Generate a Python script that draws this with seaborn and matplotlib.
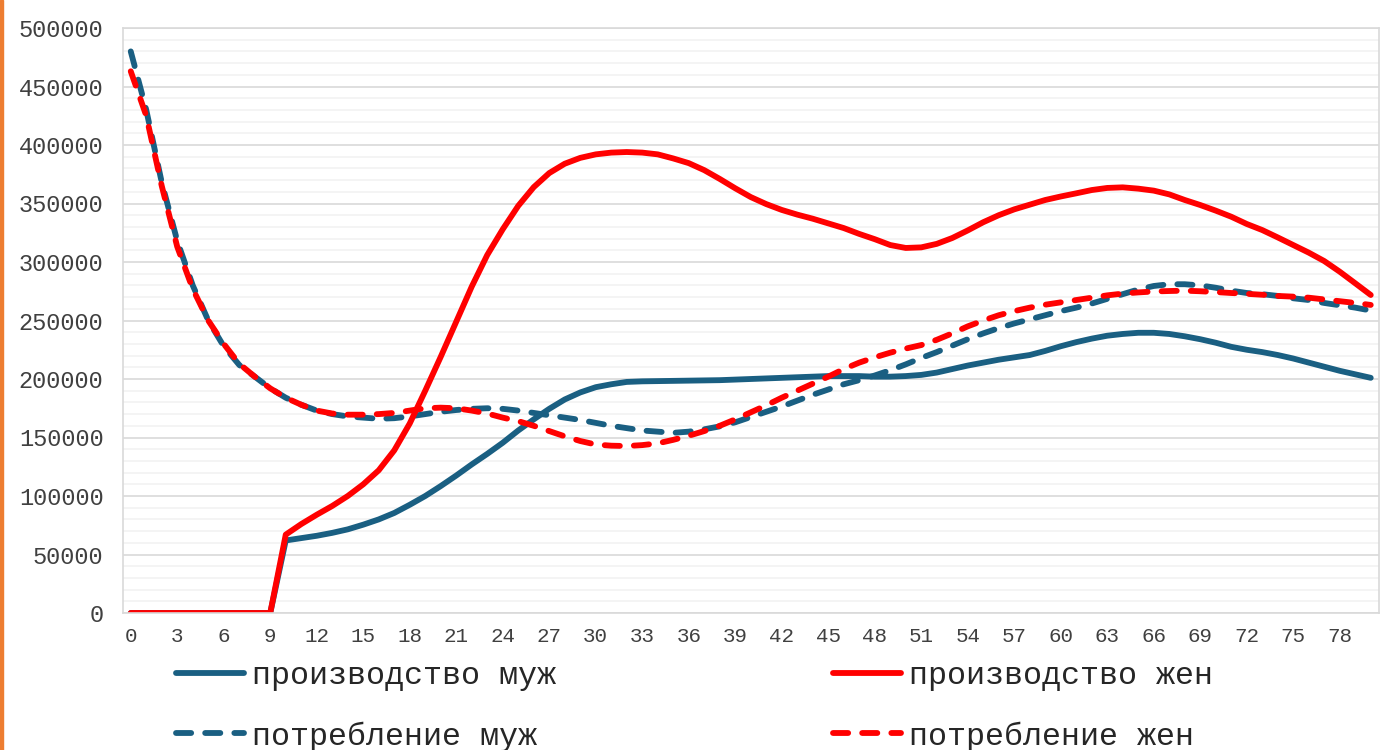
import numpy as np
import pandas as pd
import matplotlib
matplotlib.use("Agg")
import matplotlib.pyplot as plt
from matplotlib.ticker import MultipleLocator
from matplotlib.patches import Rectangle
import seaborn as sns

ages = list(range(0, 81))

prod_male = [0, 0, 0, 0, 0, 0, 0, 0, 0, 0,
             62000, 64000, 66000, 68500, 71500, 75500, 80000, 85500, 92500, 100000,
             108500, 117500, 127000, 136000, 145500, 156000, 165500, 174500, 182500, 188500,
             193000, 195500, 197500, 198000, 198200, 198400, 198600, 198800, 199000, 199500,
             200000, 200500, 201000, 201500, 202000, 202500, 202500, 202500, 202000, 202000,
             202500, 203500, 205500, 208500, 211500, 214000, 216500, 218500, 220500, 224000,
             228000, 231500, 234500, 237000, 238500, 239500, 239500, 238500, 236500, 234000,
             231000, 227500, 225000, 223000, 220500, 217500, 214000, 210500, 207000, 204000,
             201000]

prod_female = [0, 0, 0, 0, 0, 0, 0, 0, 0, 0,
               67000, 76000, 84000, 91500, 100000, 110000, 122000, 139000, 162000, 190000,
               219000, 249000, 279000, 306000, 328000, 348000, 364000, 376000, 384000, 389000,
               392000, 393500, 394000, 393500, 392000, 388500, 384500, 378500, 371000, 363000,
               355500, 349500, 344500, 340500, 337000, 333000, 329000, 324000, 319500, 314500,
               312000, 312500, 315500, 320500, 327000, 334000, 340000, 345000, 349000, 353000,
               356000, 358700, 361500, 363300, 363800, 362700, 361000, 357800, 353000, 348700,
               343900, 338700, 332500, 327300, 321000, 314500, 308000, 300800, 291700, 281800,
               271800]

cons_male = [480000, 430000, 368000, 318000, 280000, 250000, 228000, 212000, 202000, 192000,
             184000, 178000, 173000, 170000, 168000, 167000, 166000, 166500, 168000, 170000,
             172000, 173500, 174500, 175000, 174500, 173000, 171000, 169000, 167000, 165000,
             162500, 160000, 158000, 156000, 155000, 154000, 155000, 157000, 159500, 163000,
             167500, 172000, 176500, 181500, 186500, 191000, 195500, 199000, 203000, 207500,
             212500, 218000, 223000, 228500, 234000, 239000, 243500, 247500, 251000, 254500,
             258000, 261000, 264500, 268500, 272500, 276500, 279500, 281000, 281000, 280000,
             278000, 275500, 273500, 272500, 271000, 269000, 267500, 265000, 263000, 261000,
             258500]

cons_female = [463000, 425000, 365000, 313000, 277000, 250000, 230000, 213000, 202000, 192000,
               184000, 178000, 173000, 170500, 169500, 169500, 170000, 171000, 173000, 175000,
               175500, 175000, 173000, 170500, 167000, 164000, 160000, 155500, 151000, 147000,
               144000, 143000, 142700, 143500, 145000, 148000, 151500, 155500, 160000, 165500,
               171500, 177500, 184000, 190000, 196000, 202000, 208500, 214000, 218500, 222500,
               226000, 229000, 233500, 239000, 245000, 250000, 254500, 258000, 261000, 263500,
               265500, 267500, 269500, 271500, 273000, 274000, 274800, 275200, 275500, 275000,
               274300, 273500, 272800, 272000, 271000, 270400, 269500, 268000, 266500, 265000,
               263300]

labels = ["производство муж", "потребление муж", "производство жен", "потребление жен"]
x_ticks = list(range(0, 79, 3))

BLUE = "#1A5F82"
RED = "#FF0000"

sns.set_style("white")
plt.rcParams["font.family"] = ["Liberation Mono", "DejaVu Sans Mono"]

W, H = 1382, 750
fig = plt.figure(figsize=(W / 100, H / 100), dpi=100)
ax = fig.add_axes([123 / W, (H - 613) / H, 1255.5 / W, 585 / H])

lw = 4.2
dash = (0, (2.6, 2.4))
series = [
    (prod_male, BLUE, "-", labels[0]),
    (cons_male, BLUE, dash, labels[1]),
    (prod_female, RED, "-", labels[2]),
    (cons_female, RED, dash, labels[3]),
]
for vals, col, ls, lab in series:
    sns.lineplot(x=ages, y=vals, ax=ax, color=col, linewidth=lw, linestyle=ls,
                 label=lab, legend=False, solid_capstyle="round",
                 dash_capstyle="round", solid_joinstyle="round")

ax.set_xlim(-0.5, 80.5)
ax.set_ylim(0, 500000)
ax.set_xticks(x_ticks)
ax.set_xticklabels([str(t) for t in x_ticks])
ax.yaxis.set_major_locator(MultipleLocator(50000))
ax.yaxis.set_minor_locator(MultipleLocator(10000))
ax.set_yticklabels([str(int(v)) for v in ax.get_yticks()])
ax.grid(axis="y", which="major", color="#D9D9D9", linewidth=1.2)
ax.grid(axis="y", which="minor", color="#F2F2F2", linewidth=1.2)
ax.grid(axis="x", visible=False)
ax.set_axisbelow(True)
ax.tick_params(axis="y", which="both", length=0, pad=14, labelsize=17, labelcolor="#404040")
ax.tick_params(axis="x", which="both", length=0, pad=10, labelsize=15, labelcolor="#404040")
for s in ax.spines.values():
    s.set_color("#D9D9D9")
    s.set_linewidth(1.2)
ax.set_xlabel("")
ax.set_ylabel("")

handles, labs = ax.get_legend_handles_labels()
fig.legend(handles, labs, ncol=2, loc="upper left",
           bbox_to_anchor=(176 / W, 1 - 661 / H), bbox_transform=fig.transFigure,
           frameon=False, fontsize=22.9, handlelength=2.15, handletextpad=0.25,
           columnspacing=8.7, labelspacing=0.95, borderpad=0, borderaxespad=0)

fig.patches.append(Rectangle((0, 0), 3 / W, 1, transform=fig.transFigure,
                             color="#ED7D31", zorder=10))

fig.savefig("out.png", dpi=100)
